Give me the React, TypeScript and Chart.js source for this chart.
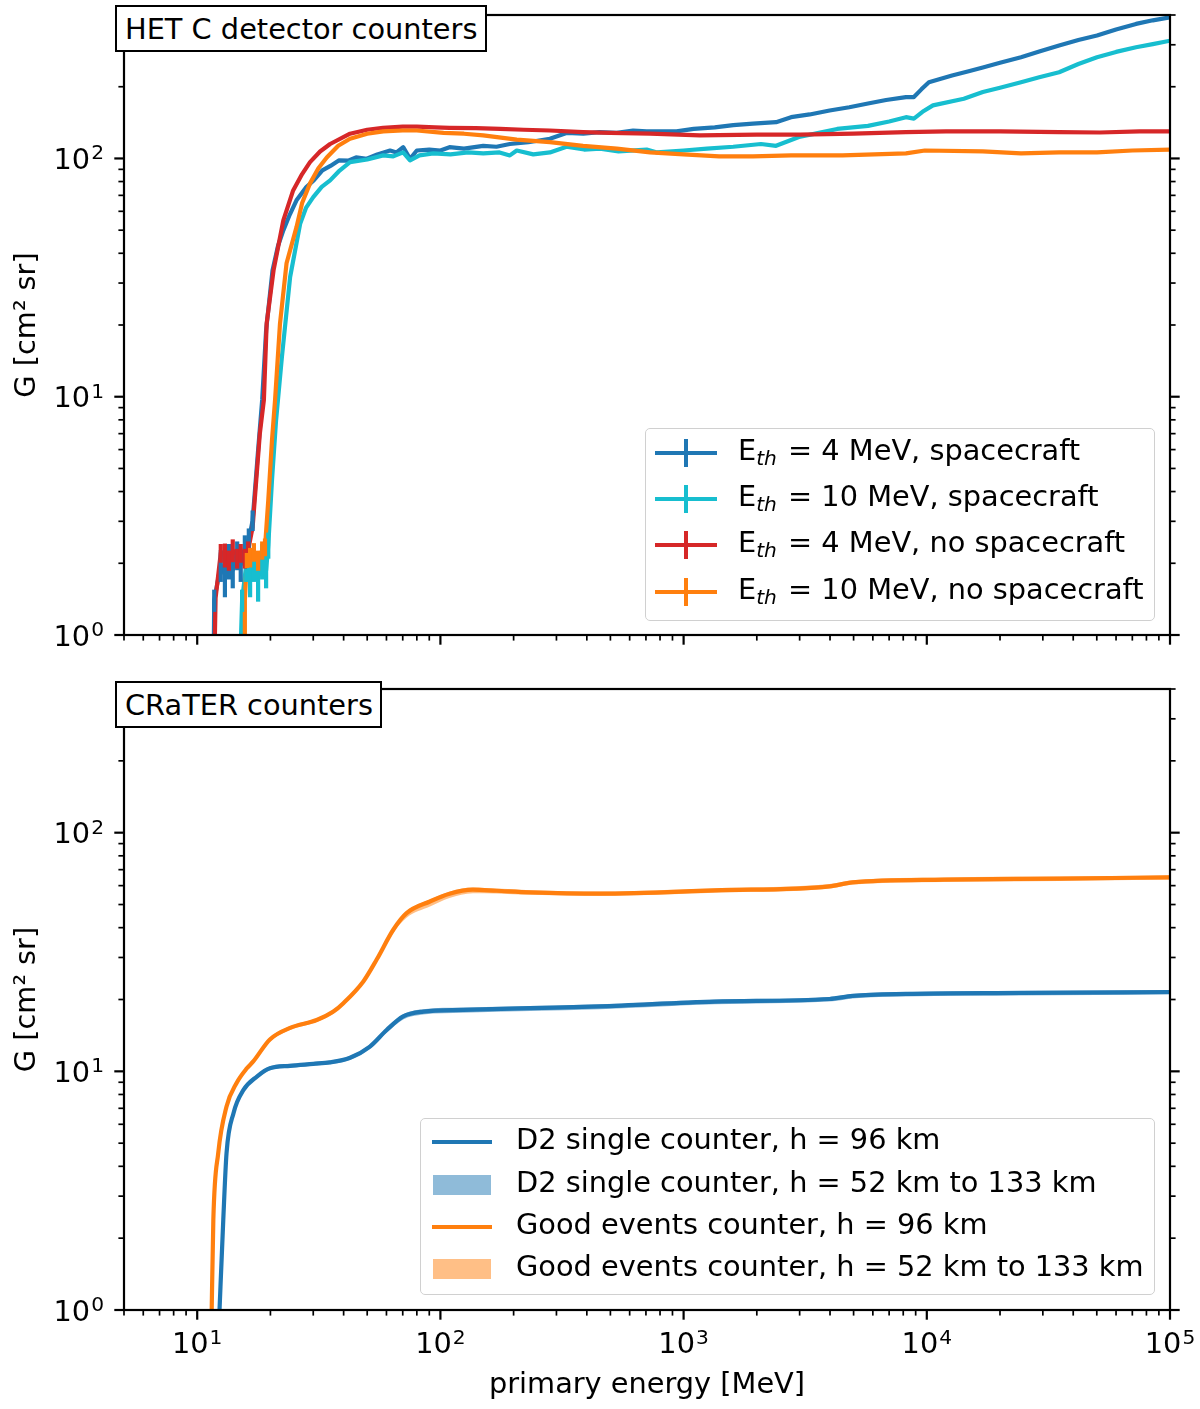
import { useEffect, useRef } from 'react';
import { Chart, registerables } from 'chart.js';

Chart.register(...registerables);

const FONT = '"DejaVu Sans", "Liberation Sans", sans-serif';
const PX = 28.8; // 10 pt text
const SUP = 20.2;
const BIG = `${PX}px ${FONT}`;
const SMALL = `${SUP}px ${FONT}`;

const C_BLUE = '#1f77b4';
const C_CYAN = '#17becf';
const C_RED = '#d62728';
const C_ORANGE = '#ff7f0e';

const X_MIN = 5;
const X_MAX = 1e5;
const Y_MIN = 1;
const Y_MAX = 400;

const xMajor = [10, 100, 1000, 10000, 100000];
const xMajorExp = ['1', '2', '3', '4', '5'];
const yMajor = [1, 10, 100];
const yMajorExp = ['0', '1', '2'];

const minorTicks = (lo: number, hi: number) => {
  const out: number[] = [];
  for (let d = 1; d <= hi; d *= 10) {
    for (let m = 2; m <= 9; m++) {
      const v = m * d;
      if (v >= lo && v <= hi) out.push(v);
    }
  }
  return out;
};
const xMinor = minorTicks(X_MIN, X_MAX);
const yMinor = minorTicks(Y_MIN, Y_MAX);

// HET C panel: [E MeV, G, error]
const het4Sc = [
  [11.7, 0.9], [11.75, 1.4, 0.15], [12.5, 1.97, 0.3], [13.0, 1.79, 0.35], [13.5, 2.06, 0.35],
  [14.0, 1.87, 0.3], [14.6, 2.17, 0.3], [15.1, 1.97, 0.3], [15.7, 2.32, 0.3], [16.3, 2.5, 0.3],
  [16.9, 3.03, 0.3], [17.8, 5.97], [18.5, 9.7], [19.2, 19.0], [20.4, 33.9], [21.5, 43],
  [22.6, 49.9], [24.0, 58], [25.6, 66.7], [28.1, 75.8], [30.2, 81], [32.7, 89.1], [35.3, 93],
  [38.2, 98.1], [42, 98], [45, 101], [49.8, 99.7], [55, 104], [62.1, 108], [66, 106],
  [70.3, 111.5], [75, 99.7], [80, 108], [90, 109], [100, 108], [109, 111.5], [125, 110],
  [150, 113], [170, 112], [193, 115], [230, 117], [282, 121], [330, 128], [387, 127],
  [450, 129], [531, 128], [620, 131], [705, 130], [935, 130], [1100, 133], [1343, 135],
  [1600, 138], [1928, 140], [2400, 142], [2767, 149], [3300, 153], [3985, 159], [4800, 164],
  [5730, 170], [6800, 176], [8210, 181], [8850, 181], [9500, 195], [10200, 209], [12700, 223],
  [15000, 233], [17000, 241], [20000, 252], [24400, 266], [29000, 281], [35000, 298],
  [42000, 314], [50100, 328], [60000, 348], [72500, 367], [85000, 380], [100000, 391],
];

const het10Sc = [
  [15.1, 0.9], [15.3, 1.4, 0.15], [15.9, 1.97, 0.3], [16.5, 1.79, 0.35], [17.1, 1.97, 0.3],
  [17.8, 1.73, 0.35], [18.5, 2.06, 0.35], [19.2, 1.87, 0.3], [19.6, 2.39, 0.3], [20.3, 4.47],
  [21.1, 7.97], [22.3, 14.7], [24.1, 31.8], [26.5, 53.2], [28, 62], [30.0, 68.8], [32.5, 76],
  [35.2, 80.9], [38.5, 89], [42.5, 96.5], [50, 99], [58.2, 103], [64, 102], [70.3, 106],
  [75, 98.1], [82, 103], [93.5, 105], [110, 104], [130, 106], [150, 105], [175, 106],
  [193, 103], [206, 108], [241, 104], [282, 106], [330, 112], [390, 109], [453, 110],
  [540, 107], [705, 109], [778, 106], [1000, 108], [1248, 110], [1600, 112], [2080, 115],
  [2400, 113], [2980, 123], [3600, 128], [4280, 133], [5730, 137], [7000, 143], [8210, 149],
  [8850, 147], [9600, 157], [10600, 167], [14200, 178], [17000, 190], [20000, 198],
  [24400, 209], [29000, 219], [35000, 230], [42000, 249], [50100, 266], [60000, 280],
  [72500, 293], [85000, 302], [100000, 312],
];

const het4NoSc = [
  [11.8, 0.9], [11.9, 1.43], [12.5, 2.21, 0.2], [13.0, 2.17, 0.25], [13.5, 2.06, 0.2],
  [14.0, 2.27, 0.25], [14.6, 2.10, 0.2], [15.1, 2.21, 0.2], [15.7, 2.10, 0.2], [16.2, 2.27, 0.2],
  [16.9, 2.84], [18.1, 7.03], [18.8, 9.7], [19.3, 20.3], [20.6, 33.9], [22.6, 55], [24.8, 73.4],
  [27, 86], [29.1, 96.5], [32, 107], [35.2, 115], [42.5, 127], [50, 132], [58.1, 134.5],
  [70, 136], [80, 136], [95, 135], [109, 134.5], [140, 134], [176, 133], [220, 132],
  [282, 131], [386, 129], [500, 128], [728, 127], [1167, 125], [2000, 126], [3013, 126],
  [5000, 127], [8200, 129], [12000, 130], [20000, 130], [35000, 129], [51500, 128.5],
  [75000, 130], [100000, 130],
];

const het10NoSc = [
  [15.6, 0.9], [15.7, 1.4], [16.0, 2.06, 0.15], [16.5, 2.12, 0.2], [17.1, 2.23, 0.2],
  [17.8, 2.06, 0.2], [18.5, 2.27, 0.2], [19.0, 2.34, 0.2], [19.6, 3.68], [20.3, 6.57],
  [20.9, 9.7], [21.9, 20.3], [23.3, 36.3], [25.6, 51.5], [27, 65], [29.1, 78.6], [31.5, 91],
  [34.1, 101], [38, 113], [42.5, 121], [50, 127], [58.2, 130], [70, 131], [80, 131],
  [103, 128], [125, 127], [150, 125], [206, 120], [282, 117], [386, 113], [531, 110],
  [728, 106], [1000, 104], [1400, 102], [1928, 102], [2767, 103], [4500, 103], [8210, 105],
  [9820, 108], [17000, 107], [24400, 105], [35000, 106], [50100, 106], [70000, 108],
  [100000, 109],
];

// CRaTER panel: [E MeV, G at 96 km, G low, G high]
const d2Single = [
  [12.3, 0.9, 0.88, 0.92], [12.8, 2.39, 2.3, 2.45], [13.2, 4.54, 4.4, 4.65],
  [14.1, 6.68, 6.5, 6.85], [15.5, 8.36, 8.15, 8.55], [17.6, 9.51, 9.3, 9.7],
  [19.9, 10.3, 10.1, 10.5], [24.1, 10.55, 10.35, 10.75], [30, 10.75, 10.55, 10.95],
  [35.1, 10.9, 10.7, 11.1], [42.5, 11.4, 11.15, 11.6], [51.3, 12.7, 12.4, 12.95],
  [60.1, 14.9, 14.5, 15.2], [70.3, 17.0, 16.5, 17.35], [85, 17.8, 17.3, 18.2],
  [124, 18.1, 17.6, 18.5], [234, 18.4, 17.9, 18.8], [453, 18.7, 18.2, 19.1],
  [1343, 19.6, 19.1, 20.0], [3981, 20.1, 19.6, 20.5], [4950, 20.7, 20.2, 21.1],
  [8210, 21.1, 20.6, 21.5], [24400, 21.3, 20.8, 21.7], [100000, 21.5, 21.0, 21.9],
];

const goodEvents = [
  [11.45, 0.9, 0.88, 0.92], [11.65, 2.39, 2.3, 2.45], [12.2, 4.54, 4.4, 4.65],
  [13.2, 7.12, 6.9, 7.3], [14.5, 8.92, 8.7, 9.1], [16.0, 10.3, 10.05, 10.5],
  [17.0, 11.0, 10.75, 11.2], [19.9, 13.6, 13.3, 13.85], [24.1, 15.2, 14.9, 15.5],
  [31.0, 16.4, 16.1, 16.7], [36.3, 17.8, 17.45, 18.1], [39.9, 19.3, 18.9, 19.65],
  [48.2, 23.8, 23.3, 24.2], [54.7, 29.4, 28.7, 29.9], [64.0, 39.2, 38.0, 39.9],
  [72.6, 46.0, 44.0, 46.9], [90.6, 51.5, 49.0, 52.5], [109, 55.5, 53.2, 56.6],
  [136, 57.7, 55.8, 58.9], [170, 57.1, 55.6, 58.3], [234, 56.2, 54.9, 57.4],
  [453, 55.5, 54.3, 56.7], [1343, 57.3, 56.0, 58.5], [3981, 59.6, 58.3, 60.9],
  [4950, 61.9, 60.6, 63.2], [11780, 63.6, 62.2, 64.9], [35000, 64.2, 62.8, 65.5],
  [100000, 65.0, 63.6, 66.3],
];

const hetLegend = [
  { color: C_BLUE, text: '= 4 MeV, spacecraft' },
  { color: C_CYAN, text: '= 10 MeV, spacecraft' },
  { color: C_RED, text: '= 4 MeV, no spacecraft' },
  { color: C_ORANGE, text: '= 10 MeV, no spacecraft' },
];
const craterLegend = [
  { kind: 'line', color: C_BLUE, text: 'D2 single counter, h = 96 km' },
  { kind: 'band', color: '#8fbbd9', text: 'D2 single counter, h = 52 km to 133 km' },
  { kind: 'line', color: C_ORANGE, text: 'Good events counter, h = 96 km' },
  { kind: 'band', color: '#ffbf86', text: 'Good events counter, h = 52 km to 133 km' },
];

const toXY = (arr: number[][], k = 1) => arr.map((p) => ({ x: p[0], y: p[k] }));

function drawPow(ctx: CanvasRenderingContext2D, exp: string, x: number, base: number, align: 'center' | 'right') {
  ctx.font = BIG;
  const w1 = ctx.measureText('10').width;
  ctx.font = SMALL;
  const w2 = ctx.measureText(exp).width;
  const w = w1 + 1 + w2;
  const left = align === 'right' ? x - w : x - w / 2;
  ctx.textAlign = 'left';
  ctx.textBaseline = 'alphabetic';
  ctx.fillStyle = '#000';
  ctx.font = BIG;
  ctx.fillText('10', left, base);
  ctx.font = SMALL;
  ctx.fillText(exp, left + w1 + 1, base - 9.5);
}

const axesDecor = {
  id: 'axesDecor',
  afterDatasetsDraw(chart: any) {
    const { ctx, chartArea: a } = chart;
    const ys = chart.scales.y;
    ctx.save();
    ctx.beginPath();
    ctx.rect(a.left, a.top, a.right - a.left, a.bottom - a.top);
    ctx.clip();
    chart.data.datasets.forEach((ds: any, i: number) => {
      if (!ds.errs) return;
      const meta = chart.getDatasetMeta(i);
      ctx.strokeStyle = ds.borderColor;
      ctx.lineWidth = 4.2;
      ds.errs.forEach((e: number, j: number) => {
        if (!e) return;
        const v = ds.data[j].y;
        const px = meta.data[j].x;
        ctx.beginPath();
        ctx.moveTo(px, ys.getPixelForValue(v - e));
        ctx.lineTo(px, ys.getPixelForValue(v + e));
        ctx.stroke();
      });
    });
    ctx.restore();
  },
  afterDraw(chart: any, _args: any, opts: any) {
    const { ctx, chartArea: a } = chart;
    const xs = chart.scales.x;
    const ys = chart.scales.y;
    ctx.save();
    ctx.strokeStyle = '#000';
    ctx.lineWidth = 2.2;
    ctx.strokeRect(a.left, a.top, a.right - a.left, a.bottom - a.top);

    const tick = (x0: number, y0: number, dx: number, dy: number) => {
      ctx.beginPath();
      ctx.moveTo(x0, y0);
      ctx.lineTo(x0 + dx, y0 + dy);
      ctx.stroke();
    };
    ctx.lineWidth = 2.2;
    xMajor.forEach((v) => tick(xs.getPixelForValue(v), a.bottom, 0, 9.7));
    yMajor.forEach((v) => {
      const p = ys.getPixelForValue(v);
      tick(a.left, p, -9.7, 0);
      tick(a.right, p, 9.7, 0);
    });
    ctx.lineWidth = 1.7;
    xMinor.forEach((v) => tick(xs.getPixelForValue(v), a.bottom, 0, 5.6));
    yMinor.forEach((v) => {
      const p = ys.getPixelForValue(v);
      tick(a.left, p, -5.6, 0);
      tick(a.right, p, 5.6, 0);
    });

    yMajor.forEach((v, i) => drawPow(ctx, yMajorExp[i], a.left - 20, ys.getPixelForValue(v) + 10.5, 'right'));
    if (opts.xLabels) {
      xMajor.forEach((v, i) => drawPow(ctx, xMajorExp[i], xs.getPixelForValue(v), a.bottom + 43, 'center'));
      ctx.font = BIG;
      ctx.textAlign = 'center';
      ctx.textBaseline = 'alphabetic';
      ctx.fillText('primary energy [MeV]', (a.left + a.right) / 2, a.bottom + 83);
    }
    ctx.translate(35, (a.top + a.bottom) / 2);
    ctx.rotate(-Math.PI / 2);
    ctx.font = BIG;
    ctx.textAlign = 'center';
    ctx.textBaseline = 'alphabetic';
    ctx.fillStyle = '#000';
    ctx.fillText('G [cm² sr]', 0, 0);
    ctx.restore();
  },
};

function baseOptions(padTop: number, xHeight: number, xLabels: boolean): any {
  return {
    animation: false,
    responsive: true,
    maintainAspectRatio: false,
    events: [],
    layout: { padding: { top: padTop, right: 30, left: 0, bottom: 0 } },
    plugins: {
      legend: { display: false },
      tooltip: { enabled: false },
      axesDecor: { xLabels },
    },
    scales: {
      x: {
        type: 'logarithmic',
        min: X_MIN,
        max: X_MAX,
        ticks: { display: false },
        grid: { display: false },
        border: { display: false },
        afterFit: (s: any) => { s.height = xHeight; },
      },
      y: {
        type: 'logarithmic',
        min: Y_MIN,
        max: Y_MAX,
        ticks: { display: false },
        grid: { display: false },
        border: { display: false },
        afterFit: (s: any) => { s.width = 124; },
      },
    },
  };
}

const hetLine = (arr: number[][], color: string, order: number) => ({
  data: toXY(arr),
  errs: arr.map((p) => p[2] ?? 0),
  borderColor: color,
  borderWidth: 4.2,
  borderJoinStyle: 'round',
  pointRadius: 0,
  tension: 0,
  fill: false,
  clip: 0,
  order,
});

const smooth = (arr: number[][], k: number, extra: any) => ({
  data: toXY(arr, k),
  pointRadius: 0,
  cubicInterpolationMode: 'monotone',
  clip: 0,
  ...extra,
});

export default function App() {
  const topRef = useRef<HTMLCanvasElement>(null);
  const botRef = useRef<HTMLCanvasElement>(null);

  useEffect(() => {
    if (!topRef.current || !botRef.current) return;
    const top = new Chart(topRef.current, {
      type: 'line',
      data: {
        datasets: [
          hetLine(het4Sc, C_BLUE, 4),
          hetLine(het10Sc, C_CYAN, 3),
          hetLine(het4NoSc, C_RED, 2),
          hetLine(het10NoSc, C_ORANGE, 1),
        ] as any,
      },
      options: baseOptions(15, 25, false),
      plugins: [axesDecor as any],
    });
    const bot = new Chart(botRef.current, {
      type: 'line',
      data: {
        datasets: [
          smooth(d2Single, 2, { borderWidth: 0, borderColor: 'rgba(0,0,0,0)', fill: false, order: 5 }),
          smooth(d2Single, 3, { borderWidth: 0, borderColor: 'rgba(0,0,0,0)', fill: '-1', backgroundColor: 'rgba(31,119,180,0.5)', order: 5 }),
          smooth(d2Single, 1, { borderWidth: 4.2, borderColor: C_BLUE, fill: false, order: 2 }),
          smooth(goodEvents, 2, { borderWidth: 0, borderColor: 'rgba(0,0,0,0)', fill: false, order: 4 }),
          smooth(goodEvents, 3, { borderWidth: 0, borderColor: 'rgba(0,0,0,0)', fill: '-1', backgroundColor: 'rgba(255,127,14,0.5)', order: 4 }),
          smooth(goodEvents, 1, { borderWidth: 4.2, borderColor: C_ORANGE, fill: false, order: 1 }),
        ] as any,
      },
      options: baseOptions(29, 99, true),
      plugins: [axesDecor as any],
    });
    return () => {
      top.destroy();
      bot.destroy();
    };
  }, []);

  const boxTitle = (text: string, top: number, width: number) => (
    <div
      style={{
        position: 'absolute', left: 115, top, width, height: 47, boxSizing: 'border-box',
        border: '2.2px solid #000', background: '#fff', font: BIG, paddingLeft: 8,
        display: 'flex', alignItems: 'center', whiteSpace: 'nowrap',
      }}
    >
      {text}
    </div>
  );

  const rowText = { position: 'absolute' as const, top: 0, height: 40, lineHeight: '40px', font: BIG, whiteSpace: 'nowrap' as const };

  return (
    <div style={{ position: 'absolute', left: 0, top: 0, width: 1200, height: 1409, background: '#fff', fontFamily: FONT }}>
      <div style={{ position: 'absolute', left: 0, top: 0, width: 1200, height: 660 }}>
        <canvas ref={topRef} />
      </div>
      <div style={{ position: 'absolute', left: 0, top: 660, width: 1200, height: 749 }}>
        <canvas ref={botRef} />
      </div>

      {boxTitle('HET C detector counters', 5, 372)}
      {boxTitle('CRaTER counters', 681, 267)}

      <div
        style={{
          position: 'absolute', left: 645, top: 428, width: 510, height: 193, boxSizing: 'border-box',
          border: '1.5px solid #d0d0d0', borderRadius: 5, background: 'rgba(255,255,255,0.8)',
        }}
      >
        {hetLegend.map((r, i) => (
          <div key={r.text} style={{ position: 'absolute', left: 0, top: [24, 70, 116, 163][i] - 20, width: 500, height: 40 }}>
            <div style={{ position: 'absolute', left: 9, top: 18, width: 62, height: 4.2, background: r.color }} />
            <div style={{ position: 'absolute', left: 38, top: 6, width: 4.2, height: 28, background: r.color }} />
            <div style={{ ...rowText, left: 92 }}>
              E<i style={{ fontSize: SUP, position: 'relative', top: 5, marginRight: 2 }}>th</i> {r.text}
            </div>
          </div>
        ))}
      </div>

      <div
        style={{
          position: 'absolute', left: 420, top: 1118, width: 735, height: 177, boxSizing: 'border-box',
          border: '1.5px solid #d0d0d0', borderRadius: 5, background: 'rgba(255,255,255,0.8)',
        }}
      >
        {craterLegend.map((r, i) => (
          <div key={r.text} style={{ position: 'absolute', left: 0, top: [23, 66, 108, 150][i] - 20, width: 730, height: 40 }}>
            {r.kind === 'line' ? (
              <div style={{ position: 'absolute', left: 11, top: 18, width: 60, height: 4.2, background: r.color }} />
            ) : (
              <div style={{ position: 'absolute', left: 12, top: 10, width: 58, height: 20, background: r.color }} />
            )}
            <div style={{ ...rowText, left: 95 }}>{r.text}</div>
          </div>
        ))}
      </div>
    </div>
  );
}
